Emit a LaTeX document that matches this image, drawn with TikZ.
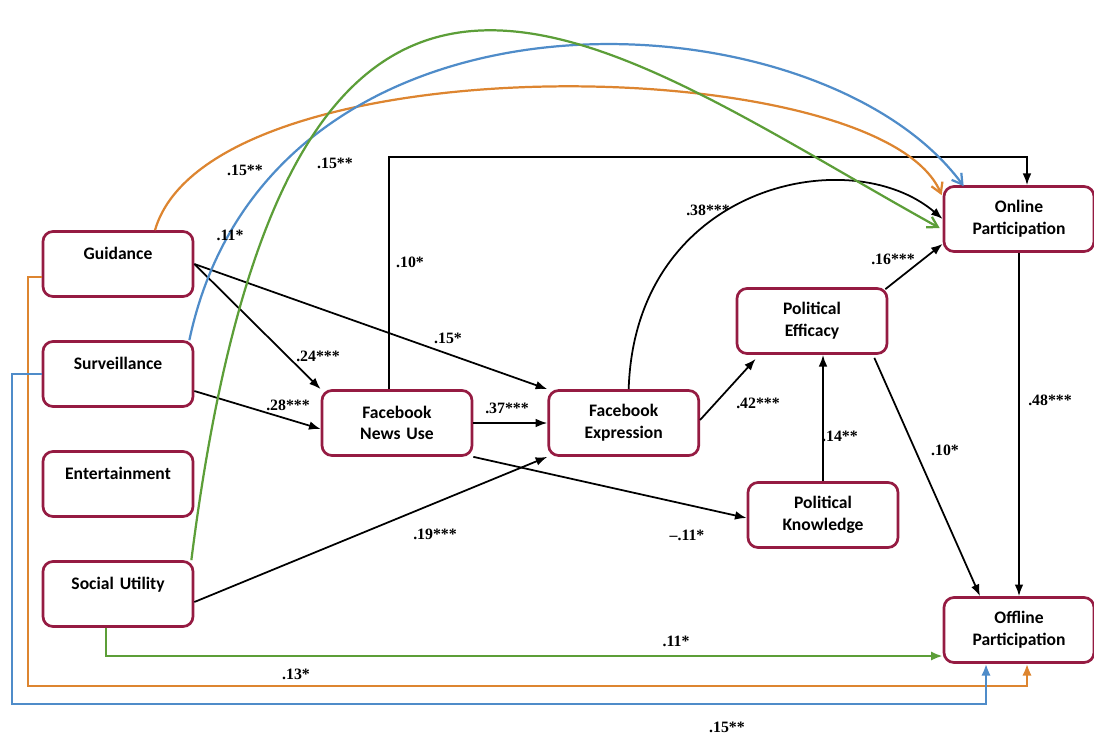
\documentclass[tikz,border=0pt]{standalone}
\usepackage{fontspec}
\setmainfont{Carlito}
\newfontfamily\numfont{Liberation Serif}
\usetikzlibrary{arrows.meta, positioning, calc}
\definecolor{boxred}{HTML}{951B42}
\definecolor{pathorange}{HTML}{DD8530}
\definecolor{pathblue}{HTML}{4F8CC9}
\definecolor{pathgreen}{HTML}{5C9E38}

\begin{document}
\begin{tikzpicture}[x=0.3mm, y=-0.3mm]
			\tikzstyle{box}=[
			draw=boxred,
			line width=2.3pt,
			rounded corners=3mm,
			fill=white,
			inner sep=0pt,
			minimum width=45mm,
			minimum height=19.5mm,
			text width=42mm,
			align=center,
			font=\fontsize{15}{18.5}\selectfont\bfseries]
			\tikzstyle{onebox}=[
			box,
			text height=11pt,
			text depth=18pt]
			\tikzstyle{lbl}=[
			inner sep=1pt,
			font=\fontsize{13.5}{15}\selectfont\numfont\bfseries]
			\tikzstyle{arr}=[-{Latex[length=3.5mm,width=2.6mm]}, line width=1.5pt]
			\tikzstyle{curve}=[-{Straight Barb[length=3mm,width=3.6mm]}, line width=1.9pt]
			\tikzstyle{elbow}=[-{Latex[length=3.5mm,width=2.8mm]}, line width=1.9pt]
			\useasboundingbox (0,0) rectangle (1094,738);
			% gratification boxes
			\node[onebox] (guid) at (118,264) {Guidance};
			\node[onebox, below of=guid, node distance=33mm] (surv) {Surveillance};
			\node[onebox, below of=surv, node distance=33mm] (ent) {Entertainment};
			\node[onebox, below of=ent, node distance=33mm] (soc) {Social Utility};
			% mediators
			\node[box] (news) at (397,423) {Facebook\\News Use};
			\node[box, right of=news, node distance=68mm] (expr) {Facebook\\Expression};
			\node[box] (eff) at (812,321) {Political\\Efficacy};
			\node[box] (know) at (823,515) {Political\\Knowledge};
			% outcomes
			\node[box] (online) at (1019,219) {Online\\Participation};
			\node[box] (offline) at (1019,630) {Offline\\Participation};
			%
			\coordinate (topbend) at (1027,157);
			\coordinate (obend) at (28,686);
			\coordinate (bbend) at (12,704);
			%
			\draw[arr] (guid.east) -- (news.north west);
			\draw[arr] (guid.east) -- (expr.north west);
			\draw[arr] ($(surv.east)+(0,17)$) -- ($(news.west)+(0,6)$);
			\draw[arr] (news.east) -- (expr.west);
			\draw[arr] (news.south east) -- ($(know.west)+(0,3)$);
			\draw[arr] ($(soc.east)+(0,8)$) -- (expr.south west);
			\draw[arr] ($(expr.east)+(0,-3)$) -- ($(eff.south west)+(20,4)$);
			\draw[arr] (know.north) -- (know.north |- eff.south);
			\draw[arr] ($(eff.south east)+(-14,3)$) -- ($(offline.north)+(-39,0)$);
			\draw[arr] (online.south) -- (offline.north);
			\draw[arr] ($(eff.north east)+(-3,2)$) -- ($(online.south west)+(0,-9)$);
			\draw[arr] ($(expr.north)+(5,0)$) .. controls (635,185) and (850,140) .. (online.west);
			\draw[arr] ($(news.north)+(-8,0)$) |- (topbend) -- (topbend |- online.north);
			% long paths from gratifications
			\draw[curve, pathorange] ($(guid.north)+(37,0)$) .. controls (210,40) and (880,50) .. ($(online.north west)+(-1,10)$);
			\draw[curve, pathblue] ($(surv.north east)+(-5,0)$) .. controls (270,-40) and (820,-10) .. ($(online.north west)+(21,1)$);
			\draw[curve, pathgreen] ($(soc.north east)+(-3,0)$) .. controls (290,-220) and (600,40) .. ($(online.west)+(-3,9)$);
			\draw[elbow, pathgreen] ($(soc.south)+(-12,0)$) |- ($(offline.west)+(0,26)$);
			\draw[elbow, pathorange] ($(guid.west)+(0,13)$) -| (obend) -| ($(offline.south)+(8,0)$);
			\draw[elbow, pathblue] (surv.west) -| (bbend) -| ($(offline.south)+(-33,0)$);
			% coefficients
			\node[lbl] (l1) at (245,170) {.15**};
			\node[lbl] (l2) at (230,235) {.11*};
			\node[lbl] (l3) at (335,163) {.15**};
			\node[lbl] (l4) at (318,356) {.24***};
			\node[lbl] (l5) at (410,262) {.10*};
			\node[lbl] (l6) at (448,338) {.15*};
			\node[lbl] (l7) at (708,210) {.38***};
			\node[lbl] (l8) at (288,405) {.28***};
			\node[lbl] (l9) at (507,408) {.37***};
			\node[lbl] (l10) at (758,403) {.42***};
			\node[lbl] (l11) at (893,259) {.16***};
			\node[lbl] (l12) at (840,436) {.14**};
			\node[lbl] (l13) at (945,450) {.10*};
			\node[lbl] (l14) at (1050,400) {.48***};
			\node[lbl] (l15) at (435,534) {.19***};
			\node[lbl] (l16) at (687,535) {–.11*};
			\node[lbl] (l17) at (676,641) {.11*};
			\node[lbl] (l18) at (296,674) {.13*};
			\node[lbl] (l19) at (727,727) {.15**};
		\end{tikzpicture}
\end{document}
